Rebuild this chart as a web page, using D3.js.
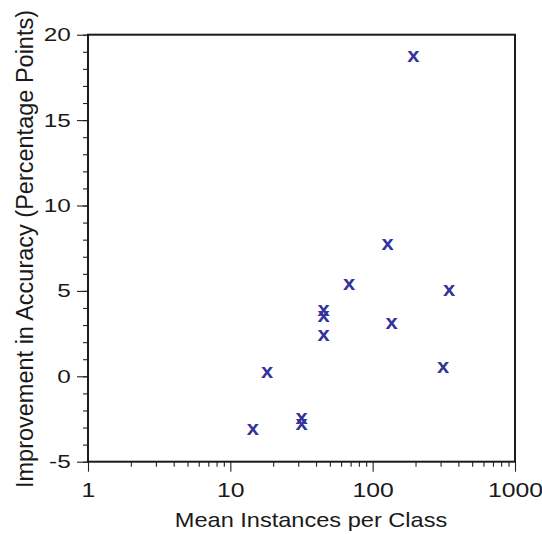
<!DOCTYPE html>
<html>
<head>
<meta charset="utf-8">
<script src="https://cdn.jsdelivr.net/npm/d3@7"></script>
<style>
  html, body { margin: 0; padding: 0; background: #fff; }
  svg { display: block; }
  text { font-family: "Liberation Sans", Arial, Helvetica, sans-serif; fill: #1a1a1a; }
</style>
</head>
<body>
<svg id="chart" width="542" height="534"></svg>
<script>
// Mean instances per class (log axis) and accuracy improvement in percentage points
const instances   = [14.4, 18.1, 31.7, 31.7, 45.3, 45.3, 45.3, 68.2, 127.6, 136, 193, 313, 345];
const improvement = [-3.1, 0.23, -2.46, -2.79, 3.88, 3.49, 2.38, 5.39, 7.73, 3.08, 18.74, 0.53, 5.01];

const xTicks = [1, 10, 100, 1000];
const yTicks = [-5, 0, 5, 10, 15, 20];
const yMinorTicks = d3.range(-5, 21, 1);
const xMinorTicks = [2,3,4,5,6,7,8,9, 20,30,40,50,60,70,80,90, 200,300,400,500,600,700,800,900];

const xTitle = "Mean Instances per Class";
const yTitle = "Improvement in Accuracy (Percentage Points)";

const points = instances.map((v, i) => ({ x: v, y: improvement[i] }));

const plotLeft = 88, plotRight = 515, plotTop = 34.7, plotBottom = 461.7;

const svg = d3.select("#chart");

const x = d3.scaleLog().domain([1, 1000]).range([plotLeft, plotRight]);
const y = d3.scaleLinear().domain([-5, 20]).range([plotBottom, plotTop]);

// plain hyphen for negative labels
const intLabel = d => String(d);

// minor ticks first, beneath the major axis
svg.append("g")
  .attr("transform", `translate(${plotLeft},0)`)
  .call(d3.axisLeft(y).tickValues(yMinorTicks).tickSize(5).tickFormat(""))
  .call(g => g.select(".domain").remove())
  .call(g => g.selectAll("line").attr("stroke", "#222").attr("stroke-width", 1.1));

svg.append("g")
  .attr("transform", `translate(0,${plotBottom})`)
  .call(d3.axisBottom(x).tickValues(xMinorTicks).tickSize(5).tickFormat(""))
  .call(g => g.select(".domain").remove())
  .call(g => g.selectAll("line").attr("stroke", "#222").attr("stroke-width", 1.1));

// major y axis with labels
const yLabelScale = 1.28;
svg.append("g")
  .attr("transform", `translate(${plotLeft},0)`)
  .call(d3.axisLeft(y).tickValues(yTicks).tickSize(11).tickPadding(6).tickFormat(intLabel))
  .call(g => g.select(".domain").remove())
  .call(g => g.selectAll("line").attr("stroke", "#222").attr("stroke-width", 1.1))
  .call(g => g.selectAll("text")
    .attr("font-size", 19)
    .attr("x", -17.3 / yLabelScale)
    .attr("transform", `scale(${yLabelScale},1)`));

// major x axis with labels
const xLabelScale = 1.18;
svg.append("g")
  .attr("transform", `translate(0,${plotBottom})`)
  .call(d3.axisBottom(x).tickValues(xTicks).tickSize(10).tickFormat(intLabel))
  .call(g => g.select(".domain").remove())
  .call(g => g.selectAll("line").attr("stroke", "#222").attr("stroke-width", 1.1))
  .call(g => g.selectAll("text")
    .attr("font-size", 21)
    .attr("y", 35.6)
    .attr("dy", 0)
    .attr("transform", `scale(${xLabelScale},1)`));

// plot frame
svg.append("rect")
  .attr("x", plotLeft).attr("y", plotTop)
  .attr("width", plotRight - plotLeft).attr("height", plotBottom - plotTop)
  .attr("fill", "none").attr("stroke", "#1a1a1a").attr("stroke-width", 2);

// axis titles
const xTitleScale = 1.15;
svg.append("text")
  .attr("transform", `translate(311,527) scale(${xTitleScale},1)`)
  .attr("text-anchor", "middle")
  .attr("font-size", 20.5)
  .text(xTitle);

svg.append("text")
  .attr("transform", "translate(33.3,249) rotate(-90)")
  .attr("text-anchor", "middle")
  .attr("font-size", 23.5)
  .text(yTitle);

// data markers drawn as serif "x" glyphs
const markerSize = 20;
svg.append("g")
  .selectAll("text")
  .data(points)
  .join("text")
  .attr("transform", d => `translate(${x(d.x)},${y(d.y) + markerSize * 0.28}) scale(1.1,1)`)
  .attr("text-anchor", "middle")
  .attr("font-family", "'Liberation Serif', 'DejaVu Serif', serif")
  .attr("font-weight", "bold")
  .attr("font-size", markerSize)
  .style("fill", "#33339a")
  .text("x");
</script>
</body>
</html>
